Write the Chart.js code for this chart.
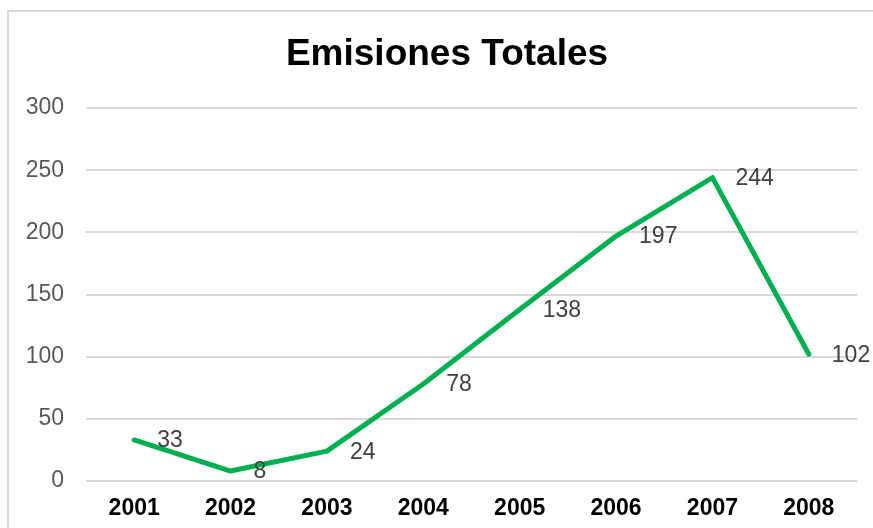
<!DOCTYPE html>
<html>
<head>
<meta charset="utf-8">
<script src="https://cdn.jsdelivr.net/npm/chart.js@4/dist/chart.umd.min.js"></script>
<style>
  html, body { margin: 0; padding: 0; background: #fff; overflow: hidden; width: 873px; height: 528px; }
  #frame {
    position: absolute; left: 7px; top: 10px; width: 864px; height: 516px;
    border-top: 2px solid #d9d9d9; border-left: 2px solid #d9d9d9;
  }
  #wrap { position: absolute; left: 0; top: 0; width: 873px; height: 528px; }
</style>
</head>
<body>
<div id="frame"></div>
<div id="wrap"><canvas id="emisionesChart"></canvas></div>
<script>
// datos del gráfico
const years = ['2001', '2002', '2003', '2004', '2005', '2006', '2007', '2008'];
const emisiones = [33, 8, 24, 78, 138, 197, 244, 102];
const yTicks = [0, 50, 100, 150, 200, 250, 300];

// etiquetas de datos a la derecha de cada punto
const dataLabels = {
    id: 'dataLabels',
    afterLayout(chart) {
        // centrar el título como en el original (un poco a la izquierda del área)
        if (chart.titleBlock) chart.titleBlock.left = 37;
    },
    afterDatasetsDraw(chart) {
        const ctx = chart.ctx;
        const meta = chart.getDatasetMeta(0);
        ctx.save();
        ctx.font = '23px "Liberation Sans", Arial, sans-serif';
        ctx.fillStyle = '#404040';
        ctx.textAlign = 'left';
        ctx.textBaseline = 'middle';
        meta.data.forEach((pt, i) => {
            ctx.fillText(String(emisiones[i]), pt.x + 23, pt.y + 1);
        });
        ctx.restore();
    }
};

const ctx = document.getElementById('emisionesChart').getContext('2d');

const emisionesChart = new Chart(ctx, {
    type: 'line',
    data: {
        labels: years,
        datasets: [{
            label: 'Emisiones',
            data: emisiones,
            borderColor: '#00B050',
            borderWidth: 5,
            borderJoinStyle: 'round',
            borderCapStyle: 'round',
            pointRadius: 0,
            pointHoverRadius: 0,
            tension: 0,
            fill: false
        }]
    },
    options: {
        responsive: true,
        maintainAspectRatio: false,
        animation: false,
        layout: {
            padding: { left: 0, right: 16, top: 0, bottom: 5 }
        },
        plugins: {
            legend: { display: false },
            tooltip: { enabled: false },
            title: {
                display: true,
                text: 'Emisiones Totales',
                color: '#000',
                font: { family: '"Liberation Sans", Arial, sans-serif', size: 37, weight: 'bold' },
                padding: { top: 33, bottom: 30.6 }
            }
        },
        scales: {
            x: {
                offset: true,
                afterFit(scale) { scale.height = 42; },
                grid: { display: false, drawTicks: false },
                border: { display: false },
                ticks: {
                    color: '#000',
                    padding: 14,
                    font: { family: '"Liberation Sans", Arial, sans-serif', size: 23, weight: 'bold' }
                }
            },
            y: {
                min: 0,
                max: 300,
                afterFit(scale) { scale.width = 86; },
                afterBuildTicks(scale) { scale.ticks = yTicks.map(v => ({ value: v })); },
                grid: { color: '#d9d9d9', lineWidth: 2, drawTicks: false },
                border: { display: false },
                ticks: {
                    color: '#595959',
                    padding: 22,
                    font: { family: '"Liberation Sans", Arial, sans-serif', size: 23 }
                }
            }
        }
    },
    plugins: [dataLabels]
});
</script>
</body>
</html>
